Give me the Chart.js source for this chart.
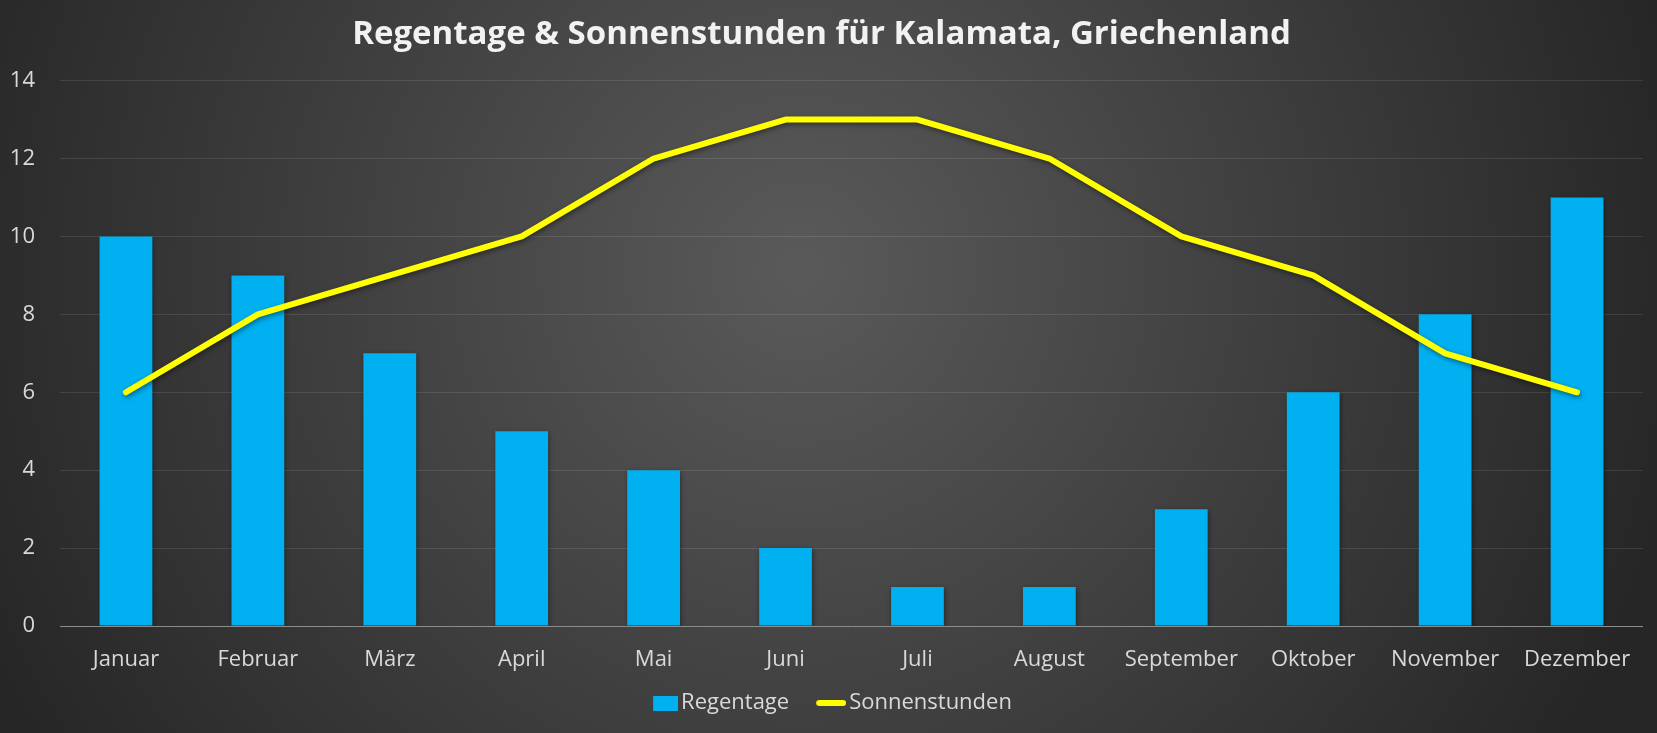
<!DOCTYPE html>
<html>
<head>
<meta charset="utf-8">
<script src="https://cdn.jsdelivr.net/npm/chart.js@4/dist/chart.umd.min.js"></script>
<style>
  body { margin: 0; background: #262626; }
  #wrap { width: 1657px; height: 733px; }
</style>
</head>
<body>
<div id="wrap"><canvas id="klimaChart"></canvas></div>
<script>
const monate = ['Januar', 'Februar', 'März', 'April', 'Mai', 'Juni', 'Juli', 'August', 'September', 'Oktober', 'November', 'Dezember'];
const regentage = [10, 9, 7, 5, 4, 2, 1, 1, 3, 6, 8, 11];
const sonnenstunden = [6, 8, 9, 10, 12, 13, 13, 12, 10, 9, 7, 6];

const blau = '#00B0F0';
const gelb = '#FFFF00';
const textFarbe = '#d9d9d9';

// legend symbols: drawn on the right side of a wider transparent canvas,
// so they sit close to their text
function symbol(h, draw) {
  const c = document.createElement('canvas');
  c.width = 55; c.height = h;
  draw(c.getContext('2d'));
  return c;
}
const blauBox = symbol(15, g => { g.fillStyle = blau; g.fillRect(30, 0, 25, 15); });
const gelbLinie = symbol(8, g => {
  g.strokeStyle = gelb; g.lineWidth = 6; g.lineCap = 'round';
  g.beginPath(); g.moveTo(28, 4); g.lineTo(52, 4); g.stroke();
});

const hintergrund = {
  id: 'hintergrund',
  beforeDraw(chart) {
    const { ctx, width, height } = chart;
    const grad = ctx.createRadialGradient(800, 270, 0, 800, 270, 900);
    grad.addColorStop(0, '#5a5a5a');
    grad.addColorStop(1, '#262626');
    ctx.save();
    ctx.fillStyle = grad;
    ctx.fillRect(0, 0, width, height);
    ctx.restore();
  }
};

const schatten = {
  id: 'schatten',
  beforeDatasetDraw(chart) {
    const ctx = chart.ctx;
    ctx.save();
    ctx.shadowColor = 'rgba(0,0,0,0.45)';
    ctx.shadowBlur = 5;
    ctx.shadowOffsetX = 1;
    ctx.shadowOffsetY = 2;
  },
  afterDatasetDraw(chart) {
    chart.ctx.restore();
  }
};

const ctx = document.getElementById('klimaChart').getContext('2d');
new Chart(ctx, {
  type: 'bar',
  data: {
    labels: monate,
    datasets: [{
      label: 'Regentage',
      data: regentage,
      backgroundColor: blau,
      categoryPercentage: 1,
      barPercentage: 0.4,
      pointStyle: blauBox,
      order: 2
    }, {
      type: 'line',
      label: 'Sonnenstunden',
      data: sonnenstunden,
      borderColor: gelb,
      backgroundColor: gelb,
      borderWidth: 6,
      borderCapStyle: 'round',
      borderJoinStyle: 'round',
      tension: 0,
      pointRadius: 0,
      pointHoverRadius: 0,
      pointStyle: gelbLinie,
      order: 1
    }]
  },
  options: {
    responsive: true,
    maintainAspectRatio: false,
    devicePixelRatio: 1,
    animation: false,
    layout: { padding: { top: 0, right: 14, left: 0, bottom: 9 } },
    scales: {
      y: {
        min: 0,
        max: 14,
        ticks: { stepSize: 2, color: textFarbe, padding: 25, font: { family: 'Open Sans', size: 22 } },
        grid: {
          drawTicks: false,
          color: c => c.tick && c.tick.value === 0 ? '#8c8c8c' : 'rgba(255,255,255,0.1)'
        },
        border: { display: false },
        afterFit(scale) { scale.width = 60; }
      },
      x: {
        ticks: { color: textFarbe, padding: 21, font: { family: 'Open Sans', size: 22 } },
        grid: { display: false, drawTicks: false },
        border: { display: false },
        afterFit(scale) { scale.height = 56; }
      }
    },
    plugins: {
      title: {
        display: true,
        text: 'Regentage & Sonnenstunden für Kalamata, Griechenland',
        color: '#f2f2f2',
        font: { family: 'Open Sans', size: 33, weight: 'bold', lineHeight: 1.2 },
        padding: { top: 15, bottom: 26 }
      },
      legend: {
        position: 'bottom',
        labels: {
          usePointStyle: true,
          pointStyleWidth: 39,
          padding: 10,
          color: textFarbe,
          font: { family: 'Open Sans', size: 22 },
          sort: (a, b) => a.datasetIndex - b.datasetIndex
        }
      },
      tooltip: { enabled: false }
    }
  },
  plugins: [hintergrund, schatten]
});
</script>
</body>
</html>
